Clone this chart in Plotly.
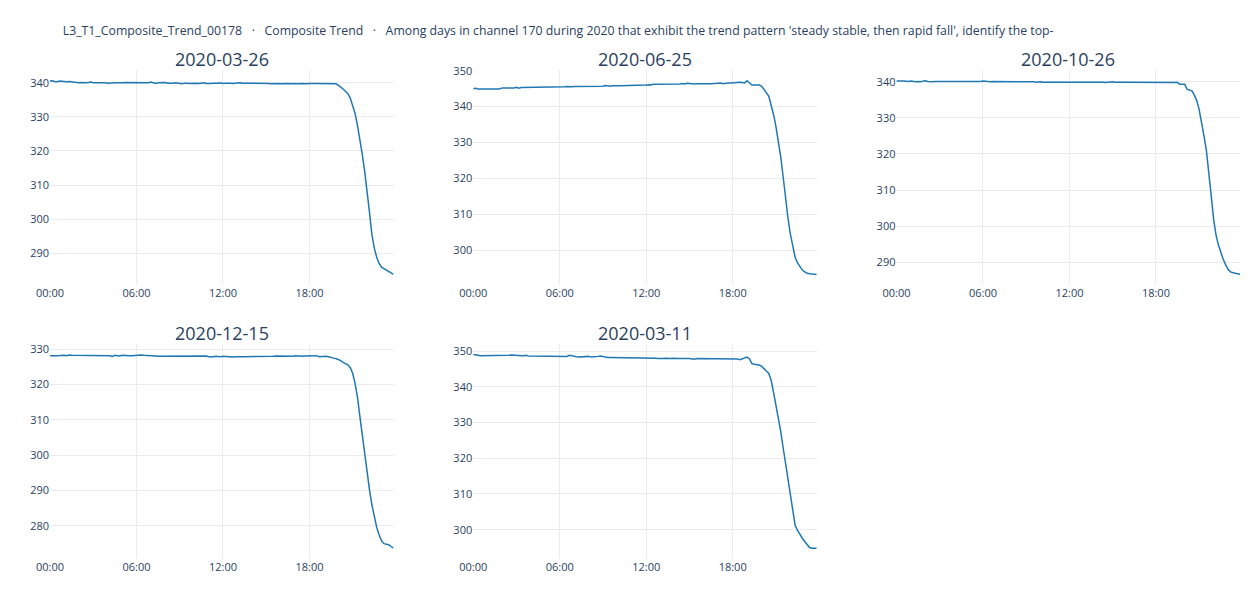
import pandas as pd
import plotly.graph_objects as go
from plotly.subplots import make_subplots

# -------------------------------
# Data: 10-minute readings for each matched day
# -------------------------------
TITLE = ("L3_T1_Composite_Trend_00178   ·   Composite Trend   ·   Among days in channel 170 during 2020 "
         "that exhibit the trend pattern 'steady stable, then rapid fall', identify the top-")

days = ["2020-03-26", "2020-06-25", "2020-10-26", "2020-12-15", "2020-03-11"]

vals_0326 = [
    340.5, 340.6, 340.4, 340.3, 340.5, 340.4, 340.2, 340.3, 340.4, 340.3, 340.1, 340.0,
    340.0, 340.1, 340.0, 340.0, 340.1, 340.2, 340.0, 340.1, 340.0, 340.0, 340.1, 340.0,
    339.9, 340.0, 340.1, 340.0, 340.0, 339.9, 340.0, 340.1, 340.1, 340.0, 339.9, 340.0,
    340.0, 340.0, 339.9, 340.0, 340.1, 340.0, 340.2, 339.9, 339.8, 340.0, 340.1, 340.0,
    340.1, 339.9, 339.8, 339.9, 340.0, 339.9, 339.8, 339.7, 339.9, 339.8, 339.7, 339.8,
    339.9, 339.8, 339.8, 339.9, 340.0, 339.8, 339.7, 339.8, 339.9, 339.8, 339.9, 340.0,
    339.8, 339.9, 340.0, 339.9, 339.8, 339.9, 339.9, 340.0, 339.9, 339.8, 339.9, 339.9,
    339.9, 339.9, 340.0, 339.9, 339.9, 339.8, 339.9, 339.8, 339.7, 339.8, 339.9, 339.8,
    339.7, 339.8, 339.7, 339.8, 339.7, 339.8, 339.8, 339.7, 339.8, 339.8, 339.7, 339.8,
    339.8, 339.8, 339.8, 339.8, 339.9, 339.8, 339.8, 339.8, 339.9, 339.9, 339.9, 339.7,
    339.3, 338.8, 338.2, 337.5, 336.8, 335.5, 333.5, 331.0, 327.5, 323.5, 319.0, 314.0,
    308.5, 302.0, 295.5, 291.5, 288.8, 287.0, 285.9, 285.5, 285.1, 284.6, 284.2, 283.8,
]

vals_0625 = [
    345.0, 345.1, 344.9, 344.9, 345.1, 345.0, 345.0, 344.9, 345.0, 345.1, 345.1, 344.9,
    345.2, 345.2, 345.1, 345.0, 345.1, 345.2, 345.4, 345.1, 345.3, 345.3, 345.3, 345.3,
    345.3, 345.3, 345.3, 345.4, 345.4, 345.4, 345.4, 345.4, 345.5, 345.5, 345.5, 345.5,
    345.5, 345.5, 345.5, 345.6, 345.5, 345.5, 345.6, 345.6, 345.6, 345.6, 345.6, 345.6,
    345.6, 345.7, 345.6, 345.7, 345.7, 345.8, 345.7, 345.9, 345.7, 345.7, 345.8, 345.7,
    345.8, 345.8, 345.8, 346.0, 345.9, 345.9, 346.0, 346.0, 346.0, 346.0, 346.0, 345.9,
    346.0, 346.1, 346.0, 346.2, 346.2, 346.1, 346.1, 346.1, 346.2, 346.1, 346.2, 346.2,
    346.2, 346.1, 346.3, 346.4, 346.3, 346.5, 346.4, 346.4, 346.3, 346.4, 346.3, 346.4,
    346.4, 346.5, 346.4, 346.4, 346.5, 346.6, 346.5, 346.6, 346.4, 346.6, 346.6, 346.6,
    346.7, 346.6, 346.7, 346.8, 346.7, 346.6, 347.2, 346.6, 346.0, 346.0, 346.1, 346.0,
    345.7, 344.9, 343.9, 342.9, 340.7, 337.8, 334.5, 330.5, 326.0, 320.5, 314.5, 309.0,
    304.5, 300.8, 298.0, 296.4, 295.2, 294.4, 293.9, 293.5, 293.4, 293.3, 293.3, 293.2,
]

vals_1026 = [
    340.2, 340.1, 340.2, 340.2, 340.1, 340.1, 340.2, 340.0, 340.0, 340.1, 340.0, 340.2,
    340.3, 340.1, 340.0, 340.0, 340.1, 340.1, 340.0, 340.0, 339.9, 340.0, 340.1, 340.0,
    340.0, 340.0, 340.1, 340.1, 340.0, 340.1, 340.0, 340.1, 340.1, 340.0, 340.1, 340.1,
    340.2, 340.1, 340.1, 340.0, 340.1, 340.1, 340.2, 340.1, 340.1, 340.0, 340.1, 340.1,
    340.1, 340.0, 340.1, 340.1, 340.1, 340.0, 340.0, 340.1, 340.0, 340.0, 339.9, 340.0,
    340.0, 339.9, 339.9, 340.0, 339.9, 340.0, 340.1, 339.9, 339.9, 340.0, 339.9, 339.9,
    340.0, 339.9, 339.9, 340.0, 340.0, 339.9, 339.9, 339.9, 340.0, 339.9, 339.9, 340.0,
    339.9, 339.9, 339.9, 339.8, 339.9, 339.9, 340.0, 339.9, 339.8, 339.9, 339.9, 339.9,
    339.9, 339.9, 339.8, 339.9, 339.9, 339.9, 339.9, 339.9, 339.9, 339.8, 339.9, 339.9,
    339.9, 339.9, 339.9, 339.8, 339.9, 339.9, 339.8, 339.8, 339.8, 339.8, 339.3, 339.3,
    339.3, 337.9, 337.6, 337.5, 336.3, 334.8, 332.3, 329.0, 325.0, 321.0, 315.5, 308.5,
    302.0, 297.6, 294.8, 292.6, 290.8, 289.3, 288.0, 287.3, 287.0, 286.9, 286.8, 286.6,
]

vals_1215 = [
    328.2, 328.3, 328.2, 328.2, 328.3, 328.2, 328.3, 328.2, 328.4, 328.3, 328.3, 328.2,
    328.2, 328.3, 328.2, 328.2, 328.3, 328.3, 328.3, 328.2, 328.3, 328.3, 328.4, 328.3,
    328.4, 328.2, 328.0, 328.3, 328.2, 328.1, 328.3, 328.2, 328.1, 328.2, 328.2, 328.3,
    328.2, 328.5, 328.4, 328.3, 328.3, 328.2, 328.2, 328.1, 328.1, 328.0, 328.0, 328.1,
    328.1, 328.1, 328.1, 328.1, 328.1, 328.1, 328.2, 328.1, 328.1, 328.2, 328.2, 328.1,
    328.1, 328.2, 328.1, 328.0, 328.1, 328.1, 327.9, 327.8, 327.9, 328.0, 327.9, 327.9,
    328.0, 327.9, 327.9, 327.8, 327.8, 327.9, 328.0, 327.9, 327.9, 327.9, 327.9, 327.9,
    327.9, 327.9, 327.9, 327.9, 327.8, 327.9, 328.0, 327.8, 327.9, 328.0, 328.1, 328.1,
    327.9, 328.0, 328.1, 328.0, 328.1, 328.0, 328.2, 328.1, 328.1, 328.0, 328.1, 328.1,
    328.1, 328.2, 328.0, 328.2, 327.9, 328.0, 328.0, 328.0, 327.9, 327.6, 327.5, 327.4,
    327.2, 326.8, 326.3, 325.9, 325.6, 324.8, 323.2, 320.3, 316.5, 311.0, 305.5, 299.5,
    294.5, 290.2, 286.0, 282.5, 279.6, 277.5, 275.8, 275.0, 274.8, 274.7, 274.2, 273.7,
]

vals_0311 = [
    349.0, 348.8, 348.8, 348.7, 348.7, 348.7, 348.7, 348.7, 348.8, 348.7, 348.7, 348.6,
    348.8, 348.7, 348.7, 348.8, 348.9, 348.8, 348.9, 348.8, 348.7, 348.7, 348.8, 348.6,
    348.6, 348.6, 348.7, 348.6, 348.5, 348.5, 348.5, 348.6, 348.5, 348.6, 348.6, 348.5,
    348.5, 348.5, 348.6, 348.5, 348.8, 348.6, 348.5, 348.4, 348.3, 348.4, 348.4, 348.4,
    348.5, 348.3, 348.3, 348.4, 348.5, 348.6, 348.4, 348.3, 348.2, 348.2, 348.2, 348.2,
    348.2, 348.2, 348.2, 348.2, 348.2, 348.2, 348.2, 348.1, 348.2, 348.2, 348.1, 348.2,
    348.2, 348.1, 348.2, 348.2, 348.0, 347.9, 347.8, 347.9, 348.0, 347.9, 347.9, 348.0,
    347.9, 347.9, 347.9, 347.9, 348.0, 347.9, 347.9, 347.8, 347.7, 347.9, 347.9, 347.9,
    347.9, 347.9, 347.8, 347.8, 347.9, 347.8, 347.8, 347.7, 347.7, 347.8, 347.8, 347.7,
    347.7, 347.8, 347.8, 347.6, 347.8, 348.2, 348.3, 347.8, 346.5, 346.3, 346.3, 346.1,
    345.8, 345.0, 344.4, 343.8, 341.8, 338.5, 335.0, 331.3, 327.5, 323.0, 318.5, 314.0,
    309.5, 304.5, 301.2, 299.8, 298.6, 297.6, 296.7, 295.8, 295.0, 294.8, 294.8, 294.8,
]

series = [vals_0326, vals_0625, vals_1026, vals_1215, vals_0311]

# -------------------------------
# Figure
# -------------------------------
fig = make_subplots(
    rows=2, cols=3,
    subplot_titles=days,
    horizontal_spacing=0.067,
    vertical_spacing=0.12,
)

for i, (day, vals) in enumerate(zip(days, series)):
    times = pd.date_range(day, periods=len(vals), freq="10min")
    fig.add_trace(
        go.Scatter(
            x=times, y=vals,
            mode="lines",
            line=dict(color="#1f77b4", width=1.5),
            name=day,
            showlegend=False,
        ),
        row=i // 3 + 1, col=i % 3 + 1,
    )

fig.update_xaxes(tickformat="%H:%M", dtick=6 * 3600 * 1000,
                 tickfont=dict(size=11), gridcolor="#ebebeb")
fig.update_yaxes(tickfont=dict(size=11), gridcolor="#ebebeb")
fig.update_annotations(font=dict(size=18), yshift=-3)

fig.update_layout(
    template="plotly_white",
    title=dict(text=TITLE, font=dict(size=12.3), x=0.044, xanchor="left",
               y=0.961, yanchor="middle"),
    width=1244,
    height=584,
    margin=dict(l=42, r=12, t=62, b=33),
)

fig.write_html("out.html")
